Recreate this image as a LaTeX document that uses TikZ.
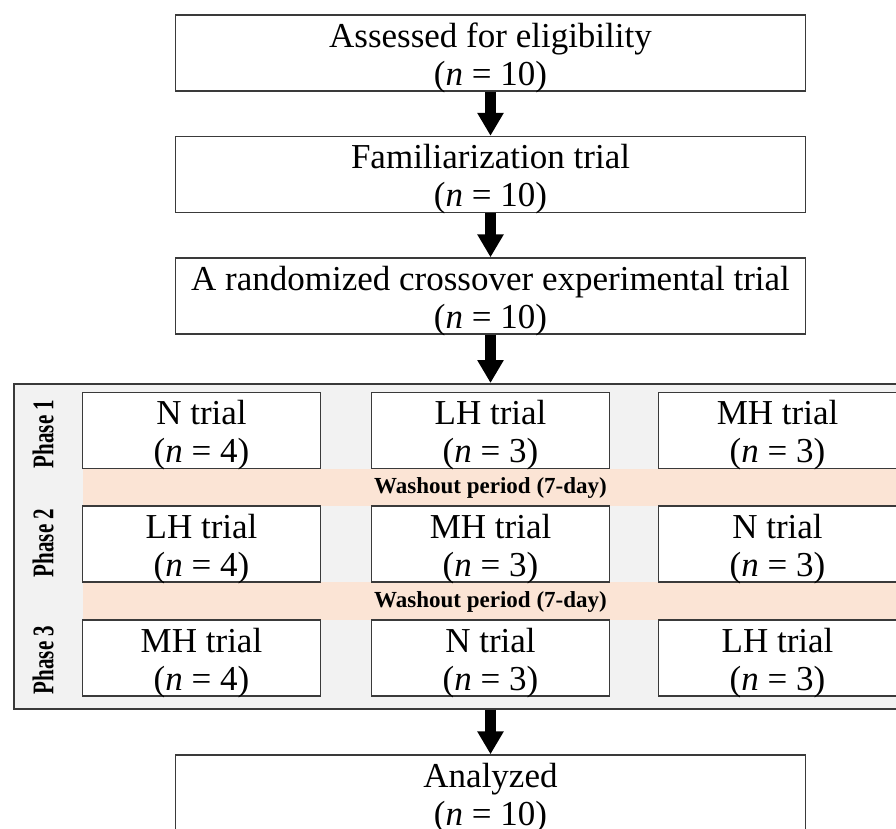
\documentclass[tikz,border=0pt]{standalone}
\usepackage{fontspec}
\setmainfont{Liberation Serif}
\usetikzlibrary{arrows.meta}
\definecolor{panelgray}{HTML}{F2F2F2}
\definecolor{bandpeach}{HTML}{FBE4D5}
\definecolor{edgegray}{HTML}{3A3A3A}
\tikzset{
  flowbox/.style={draw=edgegray, line width=1.4pt, fill=white, minimum width=630pt,
    minimum height=76pt, inner sep=0pt, align=center,
    font=\fontsize{35}{38}\selectfont},
  trialbox/.style={draw=edgegray, line width=1.4pt, fill=white, minimum width=238pt,
    minimum height=76pt, inner sep=0pt, align=center,
    font=\fontsize{35}{38}\selectfont},
  panelbox/.style={draw=edgegray, line width=1.5pt, fill=panelgray, minimum width=890pt,
    minimum height=325pt, inner sep=0pt},
  bandbox/.style={fill=bandpeach, minimum width=820pt, inner sep=0pt},
  washtext/.style={font=\bfseries\fontsize{23}{23}\selectfont, inner sep=0pt},
  phasetext/.style={rotate=90, font=\bfseries\fontsize{30}{30}\selectfont, inner sep=0pt},
  bigarrow/.style={-{Triangle[length=23pt,width=25pt]}, line width=11pt, black},
}
% two-line box text, set so that the first baseline sits 32pt below the top
\newcommand{\twoline}[2]{\rule{0pt}{26.4pt}#1\\\smash{#2}}
\newcommand{\nn}[1]{(\textit{n} = #1)}
\begin{document}
\begin{tikzpicture}[x=1pt,y=-1pt]
\clip (0,0) rectangle (896,829);
\fill[white] (0,0) rectangle (896,829);
% top boxes
\node[flowbox] (b1) at (490.5,53) {\twoline{Assessed for eligibility}{\nn{10}}};
\node[flowbox] (b2) at (490.5,174.5) {\twoline{Familiarization trial}{\nn{10}}};
\node[flowbox] (b3) at (490.5,296) {\twoline{A randomized crossover experimental trial}{\nn{10}}};
% panel
\node[panelbox, anchor=north west] (panel) at (13,383) {};
\node[bandbox, anchor=north west, minimum height=37pt] (w1) at (83,469) {};
\node[bandbox, anchor=north west, minimum height=38pt] (w2) at (83,582) {};
\node[washtext] (w1t) at (490.5,488) {Washout period (7-day)};
\node[washtext] (w2t) at (490.5,601.5) {Washout period (7-day)};
% phase labels
\node[phasetext] (p1) at (43,434) {\scalebox{0.7}[1]{Phase 1}};
\node[phasetext] (p2) at (43,543) {\scalebox{0.7}[1]{Phase 2}};
\node[phasetext] (p3) at (43,660) {\scalebox{0.7}[1]{Phase 3}};
% trial boxes
\node[trialbox] (r1c1) at (201.5,430.5) {\twoline{N trial}{\nn{4}}};
\node[trialbox] (r1c2) at (490.5,430.5) {\twoline{LH trial}{\nn{3}}};
\node[trialbox] (r1c3) at (777.5,430.5) {\twoline{MH trial}{\nn{3}}};
\node[trialbox] (r2c1) at (201.5,544) {\twoline{LH trial}{\nn{4}}};
\node[trialbox] (r2c2) at (490.5,544) {\twoline{MH trial}{\nn{3}}};
\node[trialbox] (r2c3) at (777.5,544) {\twoline{N trial}{\nn{3}}};
\node[trialbox] (r3c1) at (201.5,658) {\twoline{MH trial}{\nn{4}}};
\node[trialbox] (r3c2) at (490.5,658) {\twoline{N trial}{\nn{3}}};
\node[trialbox] (r3c3) at (777.5,658) {\twoline{LH trial}{\nn{3}}};
% bottom box
\node[flowbox] (b5) at (490.5,793) {\twoline{Analyzed}{\nn{10}}};
% arrows
\draw[bigarrow] (b1.south) -- (b2.north);
\draw[bigarrow] (b2.south) -- (b3.north);
\draw[bigarrow] (b3.south) -- (b3.south |- panel.north);
\draw[bigarrow] (b5.north |- panel.south) -- (b5.north);
\end{tikzpicture}
\end{document}
